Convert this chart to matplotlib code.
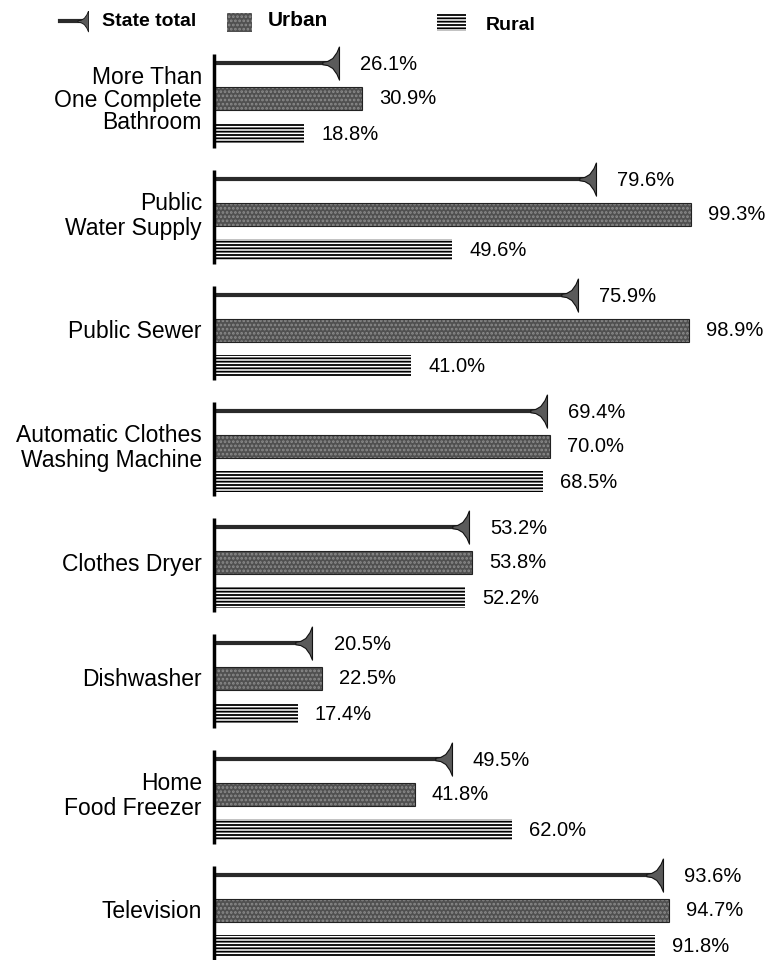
import numpy as np
import matplotlib
matplotlib.use("Agg")
import matplotlib.pyplot as plt
from matplotlib.path import Path
from matplotlib.patches import Rectangle
from matplotlib.lines import Line2D

# ================================
# DATA
# ================================
categories = [
    "More Than\nOne Complete\nBathroom",
    "Public\nWater Supply",
    "Public Sewer",
    "Automatic Clothes\nWashing Machine",
    "Clothes Dryer",
    "Dishwasher",
    "Home\nFood Freezer",
    "Television",
]
state_total = [26.1, 79.6, 75.9, 69.4, 53.2, 20.5, 49.5, 93.6]
urban = [30.9, 99.3, 98.9, 70.0, 53.8, 22.5, 41.8, 94.7]
rural = [18.8, 49.6, 41.0, 68.5, 52.2, 17.4, 62.0, 91.8]

# ================================
# STYLE
# ================================
plt.rcParams["font.family"] = ["Liberation Sans", "DejaVu Sans"]
plt.rcParams["hatch.linewidth"] = 1.3

W, H = 769, 960
x0 = 214            # pixel position of the zero line
px_per_pct = 4.8
urban_color = "#505050"
line_color = "#2a2a2a"

# flared triangle: flat side at the value, apex pointing left
tri = Path([(0, 2), (0, -2), (-0.3, -1.3), (-0.8, -0.6), (-1.4, -0.25),
            (-2.0, -0.15), (-2.0, 0.15), (-1.4, 0.25), (-0.8, 0.6),
            (-0.3, 1.3), (0, 2)])

fig = plt.figure(figsize=(W / 100, H / 100), dpi=100)

# legend layer in pixel coords
lax = fig.add_axes([0, 0, 1, 1])
lax.set_xlim(0, W)
lax.set_ylim(H, 0)
lax.axis("off")

ax = fig.add_axes([x0 / W, 0, 1 - x0 / W, 1])
ax.set_xlim(0, (W - x0) / px_per_pct)
ax.set_ylim(H, 0)
ax.axis("off")

centers = 98 + 116 * np.arange(len(categories))
y_state = centers - 35
y_rural = centers + 35

# ================================
# BARS
# ================================
ax.barh(centers, urban, height=23, color=urban_color, edgecolor="#8c8c8c",
        hatch="....", linewidth=0)
ax.barh(centers, urban, height=23, fill=False, edgecolor="#222222", linewidth=0.8)

ax.barh(y_rural, rural, height=21, color="white", edgecolor="black",
        hatch="-----", linewidth=0)

ax.hlines(y_state, 0, state_total, color=line_color, lw=3)
ax.plot(state_total, y_state, ls="none", marker=tri, ms=24,
        mfc="#5a5a5a", mec="#111111", mew=0.8)

# group axis segments
for c in centers:
    ax.plot([0, 0], [c - 44, min(c + 50, H)], color="black", lw=2.5,
            solid_capstyle="butt", clip_on=False)

# ================================
# TEXT
# ================================
off = 3.6
for i, c in enumerate(centers):
    ls = 0.98 if categories[i].count("\n") > 1 else 1.1
    ax.text(-2.5, c + 2, categories[i], ha="right", va="center",
            fontsize=16.5, linespacing=ls, clip_on=False)
    ax.text(state_total[i] + off + 0.8, y_state[i] + 2, f"{state_total[i]:.1f}%",
            va="center", fontsize=14.5)
    ax.text(urban[i] + off, c + 1, f"{urban[i]:.1f}%", va="center", fontsize=14.5)
    ax.text(rural[i] + off, y_rural[i] + 2, f"{rural[i]:.1f}%", va="center",
            fontsize=14.5)

# ================================
# LEGEND
# ================================
lax.add_line(Line2D([60, 84], [21, 21], color=line_color, lw=3))
lax.plot([88], [21], ls="none", marker=tri, ms=15, mfc="#5a5a5a", mec="#111111",
         mew=0.6)
lax.text(102, 21, "State total", fontsize=14, fontweight="bold", va="center")

lax.add_patch(Rectangle((227, 13), 25, 19, facecolor=urban_color,
                        edgecolor="#8c8c8c", hatch="....", linewidth=0))
lax.text(268, 21, "Urban", fontsize=15, fontweight="bold", va="center")

lax.add_patch(Rectangle((437, 14), 29, 17, facecolor="white", edgecolor="black",
                        hatch="-----", linewidth=0))
lax.text(486, 25, "Rural", fontsize=14, fontweight="bold", va="center")

fig.savefig("out.png", dpi=100, facecolor="white")
